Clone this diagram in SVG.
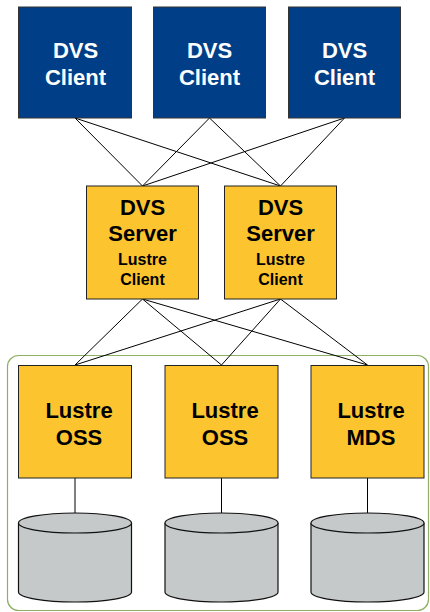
<svg xmlns="http://www.w3.org/2000/svg" width="430" height="612" viewBox="0 0 430 612">
<style>
.client{fill:#003f87;stroke:#333;stroke-width:1}
.yel{fill:#fcc52f;stroke:#222;stroke-width:1}
.disk{fill:#c5c9ca;stroke:#111;stroke-width:1.2}
.t{font-family:"Liberation Sans",Arial,sans-serif;font-weight:bold;text-anchor:middle}
.big{font-size:22px}
.small{font-size:16px}
.w{fill:#fff}
.k{fill:#000}
.conn line{stroke:#000;stroke-width:1}
.stub{stroke:#333;stroke-width:1}
</style>
<rect x="7.5" y="355.5" width="421" height="255" rx="11" fill="none" stroke="#8db063" stroke-width="1.2"/>
<g id="connectors" class="conn">
<line x1="75" y1="118" x2="142.5" y2="186"/>
<line x1="75" y1="118" x2="280.5" y2="186"/>
<line x1="209.5" y1="118" x2="142.5" y2="186"/>
<line x1="209.5" y1="118" x2="280.5" y2="186"/>
<line x1="344.5" y1="118" x2="142.5" y2="186"/>
<line x1="344.5" y1="118" x2="280.5" y2="186"/>
<line x1="142.5" y1="299" x2="75" y2="365"/>
<line x1="142.5" y1="299" x2="221.5" y2="365"/>
<line x1="142.5" y1="299" x2="367.5" y2="365"/>
<line x1="280.5" y1="299" x2="75" y2="365"/>
<line x1="280.5" y1="299" x2="221.5" y2="365"/>
<line x1="280.5" y1="299" x2="367.5" y2="365"/>
<line class="stub" x1="75" y1="478" x2="75" y2="513"/>
<line class="stub" x1="221.5" y1="478" x2="221.5" y2="513"/>
<line class="stub" x1="367.5" y1="478" x2="367.5" y2="513"/>
</g>
<g id="client1"><rect class="client" x="18.5" y="7" width="113" height="111"/><text class="t big w" x="75.5" y="58">DVS</text><text class="t big w" x="75.5" y="85">Client</text></g>
<g id="client2"><rect class="client" x="153.5" y="7" width="112" height="111"/><text class="t big w" x="209.5" y="58">DVS</text><text class="t big w" x="209.5" y="85">Client</text></g>
<g id="client3"><rect class="client" x="288.5" y="7" width="112" height="111"/><text class="t big w" x="344.5" y="58">DVS</text><text class="t big w" x="344.5" y="85">Client</text></g>
<g id="server1"><rect class="yel" x="86.5" y="186" width="112" height="113"/><text class="t big k" x="142.5" y="215">DVS</text><text class="t big k" x="142.5" y="241">Server</text><text class="t small k" x="142.5" y="265">Lustre</text><text class="t small k" x="142.5" y="285">Client</text></g>
<g id="server2"><rect class="yel" x="224.5" y="186" width="112" height="113"/><text class="t big k" x="280.5" y="215">DVS</text><text class="t big k" x="280.5" y="241">Server</text><text class="t small k" x="280.5" y="265">Lustre</text><text class="t small k" x="280.5" y="285">Client</text></g>
<g id="oss1"><rect class="yel" x="18.5" y="365.5" width="113" height="112.5"/><text class="t big k" x="79" y="418">Lustre</text><text class="t big k" x="79" y="445">OSS</text></g>
<g id="oss2"><rect class="yel" x="165" y="365.5" width="113" height="112.5"/><text class="t big k" x="225" y="418">Lustre</text><text class="t big k" x="225" y="445">OSS</text></g>
<g id="mds"><rect class="yel" x="311" y="365.5" width="113" height="112.5"/><text class="t big k" x="371" y="418">Lustre</text><text class="t big k" x="371" y="445">MDS</text></g>
<g id="disk1"><path class="disk" d="M18.5,523 V592 A56.5,10 0 0 0 131.5,592 V523 A56.5,10 0 0 0 18.5,523 Z"/><path class="disk" d="M18.5,523 A56.5,10 0 0 0 131.5,523" fill="none"/></g>
<g id="disk2"><path class="disk" d="M165,523 V592 A56.5,10 0 0 0 278,592 V523 A56.5,10 0 0 0 165,523 Z"/><path class="disk" d="M165,523 A56.5,10 0 0 0 278,523" fill="none"/></g>
<g id="disk3"><path class="disk" d="M311,523 V592 A56.5,10 0 0 0 424,592 V523 A56.5,10 0 0 0 311,523 Z"/><path class="disk" d="M311,523 A56.5,10 0 0 0 424,523" fill="none"/></g>
</svg>
